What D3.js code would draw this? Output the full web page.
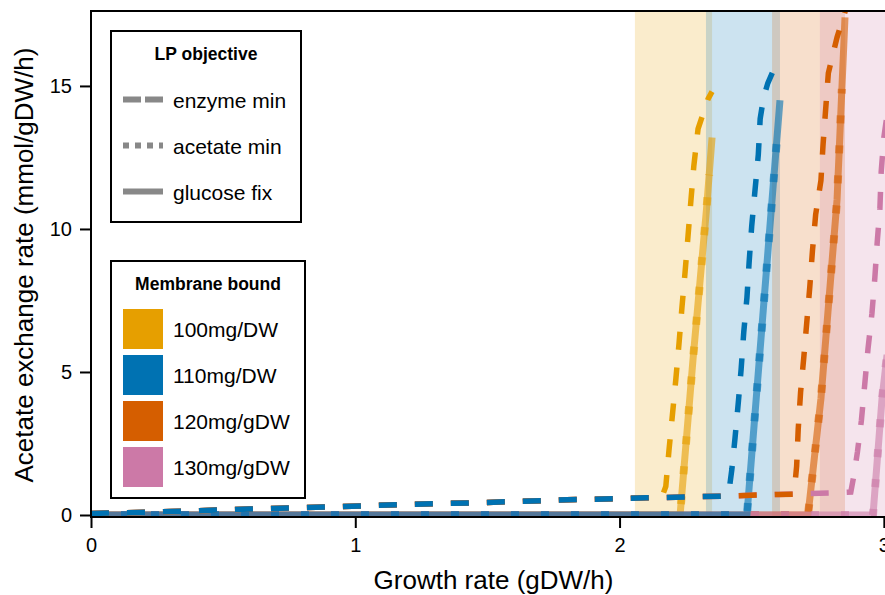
<!DOCTYPE html>
<html>
<head>
<meta charset="utf-8">
<script src="https://cdnjs.cloudflare.com/ajax/libs/d3/7.8.5/d3.min.js"></script>
<style>
  body { margin: 0; background: #fff; }
  svg { display: block; font-family: "Liberation Sans", Arial, sans-serif; }
</style>
</head>
<body>
<svg width="885" height="595"></svg>
<script>
var bounds = ["100mg/DW", "110mg/DW", "120mg/gDW", "130mg/gDW"];
var colors = ["#E69F00", "#0072B2", "#D55E00", "#CC79A7"];
var objectives = ["enzyme min", "acetate min", "glucose fix"];
var xTicks = [0, 1, 2, 3];
var yTicks = [0, 5, 10, 15];

// shaded growth-rate window per membrane bound
var bandStart = [2.058, 2.327, 2.577, 2.758];
var bandEnd = [2.35, 2.607, 2.853, 3.08];

// enzyme min (dashed), [growth rate, acetate]
var enzyme100 = [[0,0.05],[0.3,0.12],[0.6,0.21],[0.9,0.28],[1.2,0.37],[1.5,0.44],[1.8,0.53],[2.1,0.6],
  [2.16,0.62],[2.175,1.0],[2.187,2.26],[2.2,3.5],[2.213,4.75],[2.225,6.0],[2.236,7.25],[2.248,8.5],
  [2.259,9.75],[2.27,11.0],[2.281,12.2],[2.297,13.5],[2.335,14.55],[2.35,14.8]];
var enzyme110 = [[0,0.05],[0.3,0.12],[0.6,0.21],[0.9,0.28],[1.2,0.37],[1.5,0.44],[1.8,0.53],[2.1,0.6],
  [2.4,0.66],[2.415,0.9],[2.425,1.6],[2.437,2.7],[2.45,4.0],[2.46,5.1],[2.47,6.4],[2.482,7.6],[2.49,8.8],
  [2.5,10.1],[2.512,11.3],[2.525,12.6],[2.532,13.85],[2.545,14.6],[2.561,15.1],[2.58,15.5],[2.592,16.0]];
var enzyme120 = [[0,0.05],[0.3,0.12],[0.6,0.21],[0.9,0.28],[1.2,0.37],[1.5,0.44],[1.8,0.53],[2.1,0.6],
  [2.4,0.66],[2.6,0.72],[2.66,0.73],[2.67,1.7],[2.676,3.0],[2.685,4.3],[2.697,5.5],
  [2.709,6.8],[2.72,8.0],[2.73,9.25],[2.742,10.5],[2.762,11.7],[2.77,12.95],[2.78,14.2],[2.79,15.45],
  [2.823,16.7],[2.86,17.8]];
var enzyme130 = [[0,0.05],[0.3,0.12],[0.6,0.21],[0.9,0.28],[1.2,0.37],[1.5,0.44],[1.8,0.53],[2.1,0.6],
  [2.4,0.66],[2.6,0.72],[2.8,0.77],[2.875,0.8],[2.887,1.4],[2.9,2.2],[2.915,3.3],[2.928,4.6],
  [2.94,5.8],[2.955,7.05],[2.966,8.3],[2.975,9.55],[2.985,10.7],[2.99,12.0],[3.0,13.2],[3.02,14.5]];

// acetate min (dotted)
var acetate100 = [[0,0],[2.229,0],[2.278,5.45],[2.329,10.7],[2.339,11.9]];
var acetate110 = [[0,0],[2.482,0],[2.595,13.1]];
var acetate120 = [[0,0],[2.713,0],[2.762,4.07],[2.823,11.03],[2.841,14.9]];
var acetate130 = [[0,0],[2.959,0],[2.993,4.05],[3.012,5.6]];

// glucose fix (solid)
var glucose100 = [[0,0],[2.229,0],[2.278,5.45],[2.329,10.7],[2.35,13.2]];
var glucose110 = [[0,0],[2.482,0],[2.607,14.5]];
var glucose120 = [[0,0],[2.713,0],[2.762,4.07],[2.823,11.03],[2.853,17.4]];
var glucose130 = [[0,0],[2.959,0],[2.993,4.05],[3.012,5.6]];

var enzyme = [enzyme100, enzyme110, enzyme120, enzyme130],
    acetate = [acetate100, acetate110, acetate120, acetate130],
    glucose = [glucose100, glucose110, glucose120, glucose130];

// stacking order of the series (index into bounds)
var solidOrder = [0, 2, 3, 1],
    dashOrder = [0, 3, 2, 1];

var svg = d3.select("svg"),
    margin = {top: 11, left: 91},
    width = 805,
    height = 506;

var x = d3.scaleLinear().domain([0, 3.046]).range([0, width]),
    y = d3.scaleLinear().domain([0, 17.62]).range([height - 2, 0]);

var g = svg.append("g")
    .attr("transform", "translate(" + margin.left + "," + margin.top + ")");

g.append("clipPath").attr("id", "clip")
  .append("rect").attr("width", width).attr("height", height);

var line = d3.line()
    .x(function(d) { return x(d[0]); })
    .y(function(d) { return y(d[1]); });

var plot = g.append("g").attr("clip-path", "url(#clip)");

plot.selectAll(".band")
  .data(bounds)
  .enter().append("rect")
    .attr("class", "band")
    .attr("x", function(d, i) { return x(bandStart[i]); })
    .attr("width", function(d, i) { return x(bandEnd[i]) - x(bandStart[i]); })
    .attr("y", 0)
    .attr("height", height)
    .attr("fill", function(d, i) { return colors[i]; })
    .attr("fill-opacity", 0.2);

solidOrder.forEach(function(i) {
  plot.append("path")
      .attr("d", line(glucose[i]))
      .attr("fill", "none")
      .attr("stroke", colors[i])
      .attr("stroke-opacity", 0.6)
      .attr("stroke-width", 7);

  plot.append("path")
      .attr("d", line(acetate[i]))
      .attr("fill", "none")
      .attr("stroke", colors[i])
      .attr("stroke-opacity", 0.6)
      .attr("stroke-width", 8)
      .attr("stroke-dasharray", "8,22");
});

dashOrder.forEach(function(i) {
  plot.append("path")
      .attr("d", line(enzyme[i]))
      .attr("fill", "none")
      .attr("stroke", colors[i])
      .attr("stroke-width", 5.5)
      .attr("stroke-dasharray", "18,18");
});

// frame
g.append("rect")
    .attr("width", width)
    .attr("height", height)
    .attr("fill", "none")
    .attr("stroke", "#000")
    .attr("stroke-width", 2);

g.append("g")
    .attr("transform", "translate(0," + height + ")")
    .call(d3.axisBottom(x).tickValues(xTicks).tickSize(11).tickPadding(10).tickFormat(d3.format("d")))
    .call(function(a) {
      a.select(".domain").remove();
      a.selectAll(".tick line").attr("stroke-width", 2);
      a.selectAll("text").attr("font-size", 20).attr("font-family", "Liberation Sans, Arial, sans-serif").attr("fill", "#000");
    });

g.append("g")
    .call(d3.axisLeft(y).tickValues(yTicks).tickSize(11).tickPadding(8).tickFormat(d3.format("d")))
    .call(function(a) {
      a.select(".domain").remove();
      a.selectAll(".tick line").attr("stroke-width", 2);
      a.selectAll("text").attr("font-size", 20).attr("font-family", "Liberation Sans, Arial, sans-serif").attr("fill", "#000");
    });

svg.append("text")
    .attr("x", 493.5)
    .attr("y", 589)
    .attr("text-anchor", "middle")
    .attr("font-size", 26)
    .text("Growth rate (gDW/h)");

svg.append("text")
    .attr("transform", "translate(33,265) rotate(-90)")
    .attr("text-anchor", "middle")
    .attr("font-size", 26)
    .text("Acetate exchange rate (mmol/gDW/h)");

// LP objective legend
var lp = svg.append("g");
lp.append("rect")
    .attr("x", 111).attr("y", 31).attr("width", 190).attr("height", 191)
    .attr("fill", "#fff").attr("stroke", "#000").attr("stroke-width", 2);
lp.append("text")
    .attr("x", 206).attr("y", 60)
    .attr("text-anchor", "middle")
    .attr("font-size", 17.5).attr("font-weight", "bold")
    .text("LP objective");
var dashes = ["18,4", "6,6", null];
objectives.forEach(function(o, i) {
  var ly = 99.5 + i * 46;
  lp.append("line")
      .attr("x1", 123).attr("x2", 163).attr("y1", ly).attr("y2", ly)
      .attr("stroke", "#888")
      .attr("stroke-width", 6)
      .attr("stroke-dasharray", dashes[i]);
  lp.append("text")
      .attr("x", 173).attr("y", ly + 8)
      .attr("font-size", 21)
      .text(o);
});

// Membrane bound legend
var mb = svg.append("g");
mb.append("rect")
    .attr("x", 111).attr("y", 261).attr("width", 194).attr("height", 237)
    .attr("fill", "#fff").attr("stroke", "#000").attr("stroke-width", 2);
mb.append("text")
    .attr("x", 208).attr("y", 290)
    .attr("text-anchor", "middle")
    .attr("font-size", 17.5).attr("font-weight", "bold")
    .text("Membrane bound");
bounds.forEach(function(b, i) {
  var cy = 329 + i * 46;
  mb.append("rect")
      .attr("x", 123).attr("y", cy - 20).attr("width", 40).attr("height", 40)
      .attr("fill", colors[i]);
  mb.append("text")
      .attr("x", 173).attr("y", cy + 8)
      .attr("font-size", 21)
      .text(b);
});
</script>
</body>
</html>
